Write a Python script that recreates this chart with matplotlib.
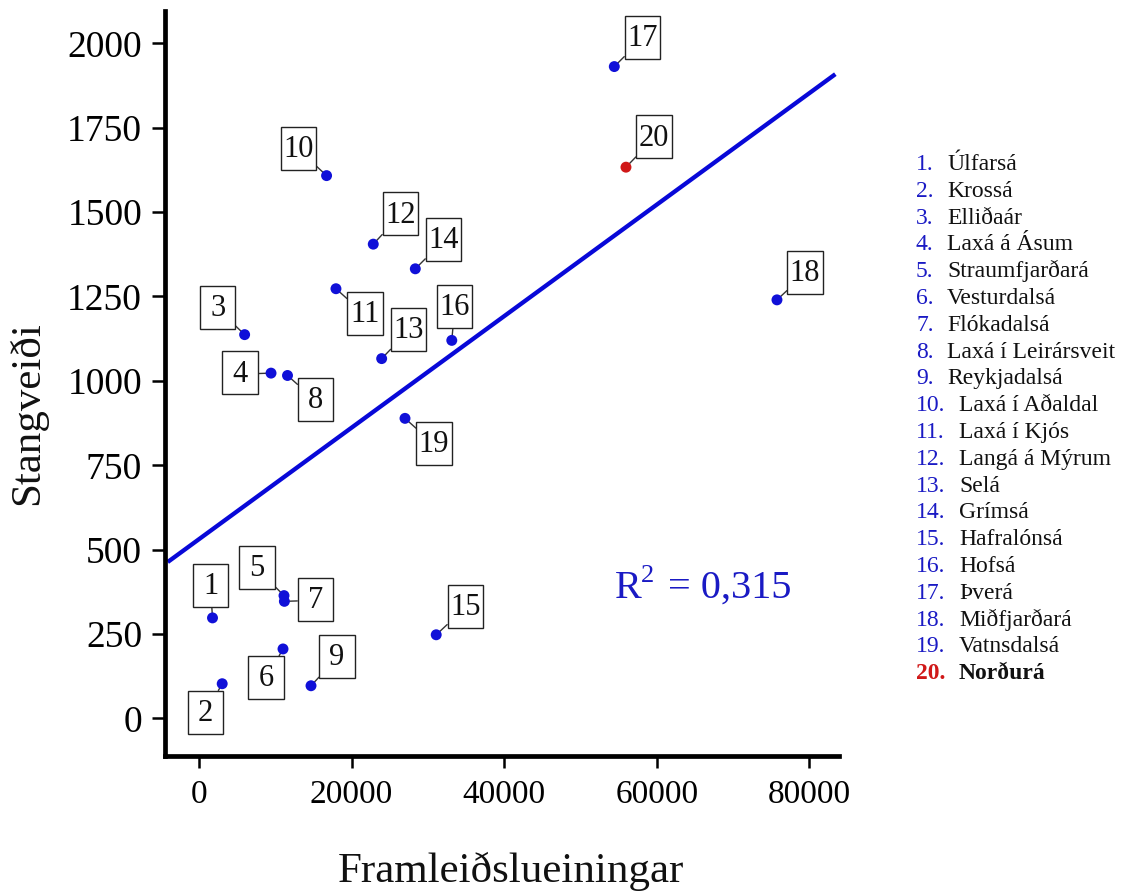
import numpy as np
import matplotlib
matplotlib.use("Agg")
import matplotlib.pyplot as plt
from matplotlib.path import Path

plt.rcParams['font.family'] = ['Liberation Serif', 'DejaVu Serif']

# ---------------- data ----------------
rivers = ["Úlfarsá", "Krossá", "Elliðaár", "Laxá á Ásum", "Straumfjarðará",
          "Vesturdalsá", "Flókadalsá", "Laxá í Leirársveit", "Reykjadalsá",
          "Laxá í Aðaldal", "Laxá í Kjós", "Langá á Mýrum", "Selá", "Grímsá",
          "Hafralónsá", "Hofsá", "Þverá", "Miðfjarðará", "Vatnsdalsá", "Norðurá"]
framleidsla = [1770, 3040, 5980, 9440, 11140, 11010, 11190, 11600, 14680, 16720,
               17950, 22840, 23940, 28350, 31090, 33130, 54430, 75750, 27000, 55960]
stangveidi = [298, 103, 1137, 1023, 364, 206, 347, 1016, 97, 1608,
              1273, 1405, 1066, 1332, 248, 1120, 1931, 1240, 889, 1633]
x_ticks = [0, 20000, 40000, 60000, 80000]
y_ticks = [0, 250, 500, 750, 1000, 1250, 1500, 1750, 2000]
r2_text = "0,315"
highlight = 20  # Norðurá

# ---------------- style / layout ----------------
W, H = 1124, 893
BLUE = '#1010d8'
LINE_BLUE = '#0808d8'
RED = '#d01818'
TXT_BLUE = '#1a1ac4'

# label box offsets from dot (screen pixels: right, down)
offsets = {1: (-2, -31), 2: (-17, 30), 3: (-27, -26), 4: (-31, 1), 5: (-27, -27),
           6: (-17, 30), 7: (31, -1), 8: (28, 25), 9: (26, -28), 10: (-28, -26),
           11: (29, 26), 12: (27, -29), 13: (27, -28), 14: (28, -28), 15: (29, -27),
           16: (3, -33), 17: (28, -28), 18: (28, -26), 19: (29, 26), 20: (28, -29)}


def fixed_box(x0, y0, width, height, mutation_size):
    """Fixed-width square label box centred on the text, taller than the text."""
    bw = 1.15 * mutation_size
    py = 0.23 * mutation_size
    cx = x0 + width / 2
    bx0, bx1 = cx - bw / 2, cx + bw / 2
    shift = 0.04 * mutation_size
    by0, by1 = y0 - py + shift, y0 + height + py + shift
    return Path([(bx0, by0), (bx1, by0), (bx1, by1), (bx0, by1), (bx0, by0)], closed=True)


fig = plt.figure(figsize=(W / 100, H / 100), dpi=100)
ax = fig.add_axes([165 / W, 1 - 755.5 / H, (839 - 165) / W, (755.5 - 11) / H])

x = np.array(framleidsla, dtype=float)
y = np.array(stangveidi, dtype=float)

# regression line
slope, intercept = np.polyfit(x, y, 1)
x_line = np.array([-4100, 83400])
ax.plot(x_line, slope * x_line + intercept, color=LINE_BLUE, lw=3.1, zorder=2,
        solid_capstyle='butt')

colors = [RED if i + 1 == highlight else BLUE for i in range(len(x))]
ax.scatter(x, y, s=62, c=colors, zorder=5, linewidths=0)

for i, (xi, yi) in enumerate(zip(x, y)):
    n = i + 1
    dx, dy = offsets[n]
    lab = ax.annotate(str(n), xy=(xi, yi), xytext=(dx * 0.72, -dy * 0.72),
                      textcoords='offset points', ha='center', va='center',
                      fontsize=22, color='#111111', zorder=4,
                      bbox=dict(boxstyle='square,pad=0.1', fc='white', ec='#222222', lw=1.0),
                      arrowprops=dict(arrowstyle='-', color='#333333', lw=1.0,
                                      shrinkA=0, shrinkB=0))
    lab.get_bbox_patch().set_boxstyle(fixed_box)

ax.set_xlim(-4456, 83880)
ax.set_ylim(-109.6, 2095.6)
ax.set_xticks(x_ticks)
ax.set_xticklabels([str(v) for v in x_ticks])
ax.set_yticks(y_ticks)
ax.set_yticklabels([str(v) for v in y_ticks])

for s in ['top', 'right']:
    ax.spines[s].set_visible(False)
for s in ['left', 'bottom']:
    ax.spines[s].set_linewidth(3.4)
    ax.spines[s].set_color('black')

ax.tick_params(axis='y', length=9.5, width=1.8, pad=7, labelsize=27, colors='black')
ax.tick_params(axis='x', length=8.6, width=1.8, pad=9, labelsize=24, colors='black')

# axis titles
fig.text(511 / W, 1 - 882 / H, "Framleiðslueiningar", ha='center', va='baseline',
         fontsize=31, color='#111111')
fig.text(28 / W, 1 - 413 / H, "Stangveiði", ha='center', va='center', rotation=90,
         fontsize=31, color='#111111')

# R^2 annotation
fig.text(615 / W, 1 - 598 / H, "R", fontsize=29, color=TXT_BLUE, va='baseline', ha='left')
fig.text(641 / W, 1 - 582 / H, "2", fontsize=19, color=TXT_BLUE, va='baseline', ha='left')
fig.text(668 / W, 1 - 598 / H, "= " + r2_text, fontsize=29, color=TXT_BLUE,
         va='baseline', ha='left')

# numbered legend
for i, name in enumerate(rivers):
    n = i + 1
    yb = 170 + i * 26.8
    bold = (n == highlight)
    fig.text(916 / W, 1 - yb / H, f"{n}.", fontsize=17,
             color=RED if bold else TXT_BLUE, va='baseline', ha='left',
             fontweight='bold' if bold else 'normal')
    fig.text((947 if n < 10 else 959) / W, 1 - yb / H, name, fontsize=17,
             color='#111111', va='baseline', ha='left',
             fontweight='bold' if bold else 'normal')

fig.savefig("out.png", dpi=100, facecolor='white')
